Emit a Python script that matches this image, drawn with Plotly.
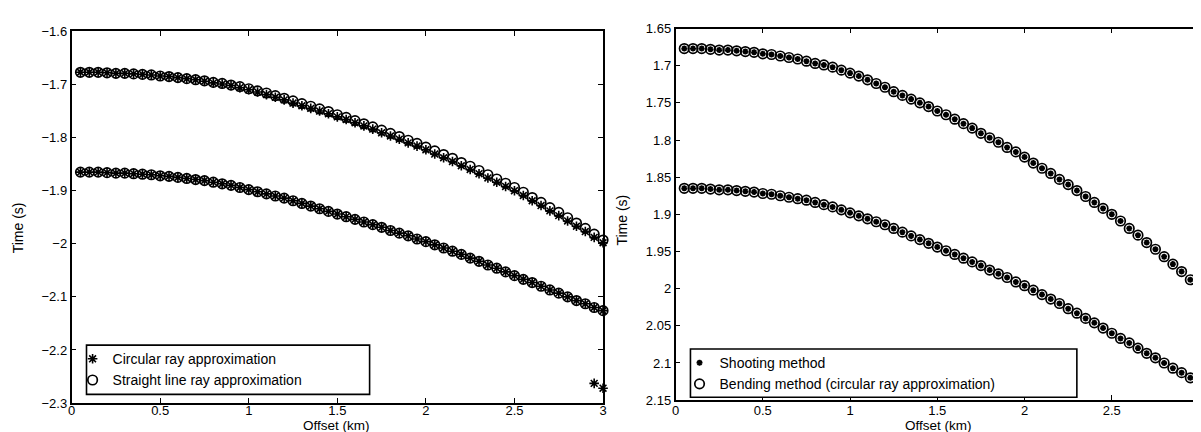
import plotly.graph_objects as go

# ---------------- data ----------------
offset_km = [0.05, 0.10, 0.15, 0.20, 0.25, 0.30, 0.35, 0.40, 0.45, 0.50,
             0.55, 0.60, 0.65, 0.70, 0.75, 0.80, 0.85, 0.90, 0.95, 1.00,
             1.05, 1.10, 1.15, 1.20, 1.25, 1.30, 1.35, 1.40, 1.45, 1.50,
             1.55, 1.60, 1.65, 1.70, 1.75, 1.80, 1.85, 1.90, 1.95, 2.00,
             2.05, 2.10, 2.15, 2.20, 2.25, 2.30, 2.35, 2.40, 2.45, 2.50,
             2.55, 2.60, 2.65, 2.70, 2.75, 2.80, 2.85, 2.90, 2.95, 3.00]

# left panel: upper reflector, straight line ray approximation (circles)
upper_straight = [-1.677, -1.677, -1.677, -1.678, -1.679, -1.679, -1.680, -1.681, -1.682, -1.684,
                  -1.685, -1.687, -1.689, -1.691, -1.693, -1.696, -1.698, -1.701, -1.704, -1.708,
                  -1.712, -1.716, -1.721, -1.726, -1.731, -1.736, -1.741, -1.746, -1.751, -1.757,
                  -1.762, -1.768, -1.774, -1.780, -1.786, -1.792, -1.798, -1.805, -1.811, -1.818,
                  -1.825, -1.832, -1.839, -1.847, -1.854, -1.862, -1.870, -1.878, -1.886, -1.894,
                  -1.903, -1.913, -1.922, -1.932, -1.941, -1.951, -1.961, -1.971, -1.982, -1.993]

# left panel: upper reflector, circular ray approximation (asterisks)
upper_circular = [-1.677, -1.677, -1.677, -1.678, -1.679, -1.679, -1.680, -1.681, -1.682, -1.684,
                  -1.685, -1.687, -1.689, -1.691, -1.694, -1.697, -1.699, -1.702, -1.706, -1.710,
                  -1.714, -1.719, -1.724, -1.729, -1.735, -1.740, -1.745, -1.750, -1.755, -1.761,
                  -1.766, -1.772, -1.778, -1.784, -1.791, -1.797, -1.803, -1.810, -1.816, -1.823,
                  -1.831, -1.838, -1.845, -1.853, -1.860, -1.868, -1.876, -1.884, -1.892, -1.900,
                  -1.909, -1.919, -1.928, -1.938, -1.947, -1.957, -1.967, -1.977, -1.988, -1.998]

# left panel: lower reflector (both approximations coincide)
lower_circular = [-1.865, -1.865, -1.865, -1.866, -1.867, -1.867, -1.868, -1.869, -1.870, -1.872,
                  -1.873, -1.875, -1.877, -1.879, -1.881, -1.884, -1.887, -1.890, -1.894, -1.898,
                  -1.902, -1.906, -1.910, -1.914, -1.919, -1.924, -1.929, -1.934, -1.939, -1.944,
                  -1.949, -1.954, -1.959, -1.964, -1.969, -1.975, -1.980, -1.985, -1.991, -1.996,
                  -2.002, -2.008, -2.014, -2.020, -2.027, -2.033, -2.040, -2.046, -2.053, -2.060,
                  -2.067, -2.073, -2.080, -2.087, -2.093, -2.100, -2.107, -2.113, -2.120, -2.126]
lower_straight = list(lower_circular)

# stray circular-ray points near the bottom right of the left panel
stray_x = [2.95, 3.00]
stray_y = [-2.263, -2.272]

# right panel: shooting vs bending (times positive)
shooting_upper = [-v for v in upper_circular]
shooting_lower = [-v for v in lower_circular]
bending_upper = [-v for v in upper_circular]
bending_lower = [-v for v in lower_circular]

left_yticks = [-1.6, -1.7, -1.8, -1.9, -2.0, -2.1, -2.2, -2.3]
left_yticktext = ["\u22121.6", "\u22121.7", "\u22121.8", "\u22121.9", "\u22122", "\u22122.1", "\u22122.2", "\u22122.3"]
right_yticks = [1.65, 1.7, 1.75, 1.8, 1.85, 1.9, 1.95, 2.0, 2.05, 2.1, 2.15]
right_yticktext = ["1.65", "1.7", "1.75", "1.8", "1.85", "1.9", "1.95", "2", "2.05", "2.1", "2.15"]
xticks = [0, 0.5, 1, 1.5, 2, 2.5, 3]
xticktext = ["0", "0.5", "1", "1.5", "2", "2.5", "3"]

# ---------------- figure ----------------
W, H = 1201, 432
FONT = "Liberation Sans, Arial, Helvetica, sans-serif"

def px_x(p):
    return p / W

def px_y(p):
    return 1 - p / H

fig = go.Figure()

star_l = dict(symbol="asterisk-open", size=8, color="black", line=dict(color="black", width=1.6))
circ = dict(symbol="circle-open", size=9.5, color="black", line=dict(color="black", width=1.7))
star_r = dict(symbol="asterisk-open", size=5, color="black", line=dict(color="black", width=1.8))

fig.add_trace(go.Scatter(x=offset_km + offset_km, y=upper_circular + lower_circular, mode="markers",
                         marker=star_l, name="Circular ray approximation", xaxis="x", yaxis="y",
                         legend="legend", cliponaxis=False))
fig.add_trace(go.Scatter(x=stray_x, y=stray_y, mode="markers", marker=star_l, showlegend=False,
                         xaxis="x", yaxis="y", cliponaxis=False))
fig.add_trace(go.Scatter(x=offset_km + offset_km, y=upper_straight + lower_straight, mode="markers",
                         marker=circ, name="Straight line ray approximation", xaxis="x", yaxis="y",
                         legend="legend", cliponaxis=False))

fig.add_trace(go.Scatter(x=offset_km + offset_km, y=shooting_upper + shooting_lower, mode="markers",
                         marker=star_r, name="Shooting method", xaxis="x2", yaxis="y2",
                         legend="legend2", cliponaxis=False))
fig.add_trace(go.Scatter(x=offset_km + offset_km, y=bending_upper + bending_lower, mode="markers",
                         marker=circ, name="Bending method (circular ray approximation)", xaxis="x2", yaxis="y2",
                         legend="legend2", cliponaxis=False))

axis_common = dict(showline=True, linecolor="black", linewidth=1.6, mirror="ticks", ticks="inside",
                   ticklen=5, tickwidth=1.3, tickcolor="black", showgrid=False, zeroline=False,
                   tickfont=dict(family=FONT, size=13, color="black"))

fig.update_layout(
    width=W, height=H,
    margin=dict(l=0, r=0, t=0, b=0),
    paper_bgcolor="white", plot_bgcolor="white",
    showlegend=True,
    xaxis=dict(domain=[px_x(60), px_x(595)], range=[0, 3], tickvals=xticks, ticktext=xticktext,
               anchor="y", ticklabelstandoff=-5, **axis_common),
    yaxis=dict(domain=[1 - 402 / H, 1 - 17 / H], range=[-2.3, -1.6], tickvals=left_yticks,
               ticktext=left_yticktext, anchor="x", **axis_common),
    xaxis2=dict(domain=[px_x(668), px_x(1195)], range=[0, 3], tickvals=xticks, ticktext=xticktext,
                anchor="y2", ticklabelstandoff=-3, ticklabeloverflow="allow", **axis_common),
    yaxis2=dict(domain=[1 - 399 / H, 1 - 14 / H], range=[2.15, 1.65], tickvals=right_yticks,
                ticktext=right_yticktext, anchor="x2", **axis_common),
    legend=dict(x=px_x(61), y=px_y(340), xanchor="left", yanchor="top", bgcolor="rgba(0,0,0,0)",
                borderwidth=0, font=dict(family=FONT, size=14, color="black"), tracegroupgap=0),
    legend2=dict(x=px_x(672), y=px_y(344), xanchor="left", yanchor="top", bgcolor="rgba(0,0,0,0)",
                 borderwidth=0, font=dict(family=FONT, size=14, color="black"), tracegroupgap=0),
    shapes=[
        dict(type="rect", xref="paper", yref="paper", x0=px_x(75), x1=px_x(360), y0=px_y(393), y1=px_y(342),
             line=dict(color="black", width=1.6), fillcolor="white", layer="above"),
        dict(type="rect", xref="paper", yref="paper", x0=px_x(683), x1=px_x(1072), y0=px_y(396), y1=px_y(346),
             line=dict(color="black", width=1.6), fillcolor="white", layer="above"),
    ],
    annotations=[
        dict(text="Offset (km)", xref="paper", yref="paper", x=px_x(327), y=px_y(425.5), showarrow=False,
             font=dict(family=FONT, size=13.5, color="black"), xanchor="center", yanchor="middle"),
        dict(text="Offset (km)", xref="paper", yref="paper", x=px_x(933), y=px_y(425), showarrow=False,
             font=dict(family=FONT, size=13.5, color="black"), xanchor="center", yanchor="middle"),
        dict(text="Time (s)", xref="paper", yref="paper", x=px_x(6), y=px_y(220), showarrow=False,
             textangle=-90, font=dict(family=FONT, size=14, color="black"), xanchor="center", yanchor="middle"),
        dict(text="Time (s)", xref="paper", yref="paper", x=px_x(614), y=px_y(212), showarrow=False,
             textangle=-90, font=dict(family=FONT, size=14, color="black"), xanchor="center", yanchor="middle"),
    ],
)

fig.write_html("out.html")
